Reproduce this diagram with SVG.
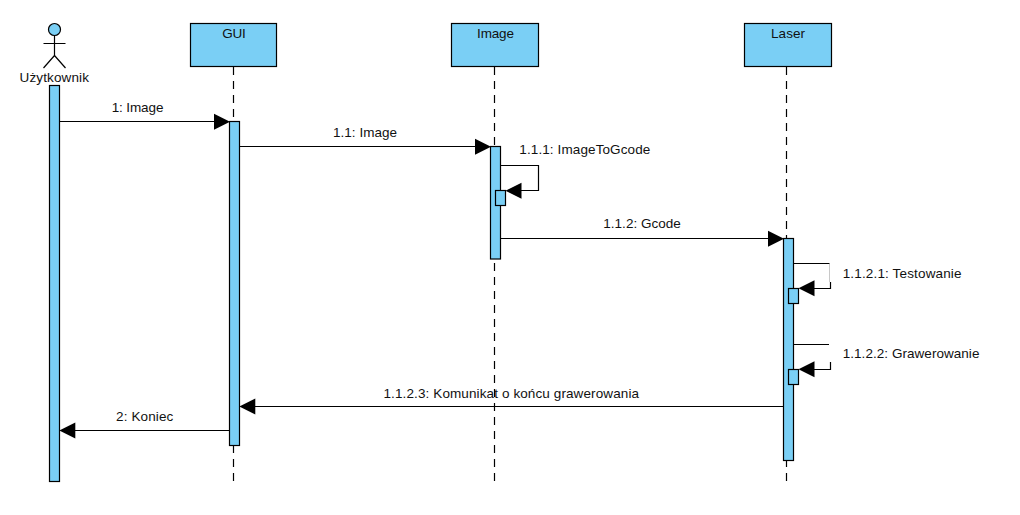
<svg xmlns="http://www.w3.org/2000/svg" width="1020" height="515" viewBox="0 0 1020 515">
<style>
text{font-family:"Liberation Sans",Arial,sans-serif;font-size:13.500px;fill:#111}
.box{fill:#7acff5;stroke:#000;stroke-width:1.200}
.l{fill:none;stroke:#000;stroke-width:1.200}
.d{fill:none;stroke:#000;stroke-width:1.200;stroke-dasharray:8 6}
.g{fill:none;stroke:#c8c8c8;stroke-width:1}
.h{fill:#000;stroke:none}
</style>
<rect width="1020" height="515" fill="#fff"/>
<g id="lifelines">
<path class="d" d="M233.500 67V484"/>
<path class="d" d="M494.500 67V484"/>
<path class="d" d="M786.500 67V484"/>
</g>
<g id="node-user">
<circle class="box" cx="54.500" cy="29.500" r="6"/>
<path class="l" d="M54.500 36V55.500M43.500 43.500H65.500M54.500 55.500L43.500 68M54.500 55.500L65.500 68"/>
<text x="19.500" y="82" textLength="69.500">Użytkownik</text>
<rect class="box" x="49.500" y="85.500" width="10" height="396"/>
</g>
<g id="node-gui">
<rect class="box" x="190.500" y="23.500" width="86" height="43"/>
<text x="222.300" y="38" textLength="23.500">GUI</text>
<rect class="box" x="229.500" y="121.500" width="10" height="324"/>
</g>
<g id="node-image">
<rect class="box" x="451.500" y="23.500" width="87" height="43"/>
<text x="477" y="38" textLength="37">Image</text>
<rect class="box" x="490.500" y="146.500" width="10" height="112.500"/>
<rect class="box" x="495.500" y="190.500" width="10" height="15"/>
</g>
<g id="node-laser">
<rect class="box" x="744.500" y="23.500" width="87" height="43"/>
<text x="771" y="38" textLength="34">Laser</text>
<rect class="box" x="783.500" y="238.500" width="10" height="222"/>
<rect class="box" x="788.500" y="288.500" width="10" height="15"/>
<rect class="box" x="788.500" y="369.500" width="10" height="15"/>
</g>
<g id="connectors">
<path class="l" d="M60 121.500H215"/><path class="h" d="M230 121.800L214 113.800V129.800Z"/>
<path class="l" d="M240 146.500H476"/><path class="h" d="M491 146.800L475 138.800V154.800Z"/>
<path class="l" d="M501 165.500H538.500V190.500H520"/><path class="h" d="M505.500 190.800L521.500 182.800V198.800Z"/>
<path class="l" d="M501 238.500H769"/><path class="h" d="M784 238.800L768 230.800V246.800Z"/>
<path class="l" d="M794 263.500H829.500"/><path class="g" d="M829.500 264V282"/><path class="l" d="M830.500 282V288.500H813"/><path class="h" d="M798.500 288.300L814.500 280.300V296.300Z"/>
<path class="l" d="M794 344.500H829"/><path class="l" d="M830.500 362V369.500H813"/><path class="h" d="M798.500 369.300L814.500 361.300V377.300Z"/>
<path class="l" d="M783 406.500H254"/><path class="h" d="M239.300 406.500L255.300 398.500V414.500Z"/>
<path class="l" d="M229 430.500H74"/><path class="h" d="M59.300 430.500L75.300 422.500V438.500Z"/>
</g>
<g id="labels">
<text x="111.700" y="112" textLength="51.700">1: Image</text>
<text x="333" y="137" textLength="64">1.1: Image</text>
<text x="519.300" y="154" textLength="131">1.1.1: ImageToGcode</text>
<text x="603.300" y="228" textLength="77.500">1.1.2: Gcode</text>
<text x="842.700" y="278" textLength="118.800">1.1.2.1: Testowanie</text>
<text x="842.700" y="358" textLength="136.700">1.1.2.2: Grawerowanie</text>
<text x="383.500" y="398" textLength="255.500">1.1.2.3: Komunikat o końcu grawerowania</text>
<text x="116" y="421" textLength="57.300">2: Koniec</text>
</g>
</svg>
